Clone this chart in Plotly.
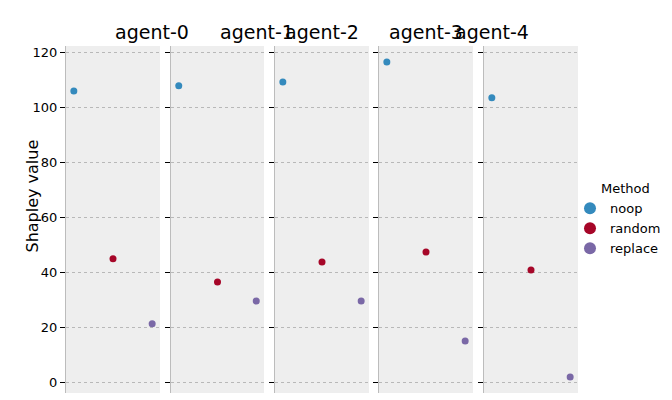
import plotly.graph_objects as go

agents = ["agent-0", "agent-1", "agent-2", "agent-3", "agent-4"]
methods = ["noop", "random", "replace"]
noop = [106.1, 108.0, 109.4, 116.7, 103.6]
random_ = [44.9, 36.5, 43.8, 47.4, 40.8]
replace = [21.2, 29.5, 29.5, 15.0, 1.8]
colors = {"noop": "#348ABD", "random": "#A60628", "replace": "#7A68A6"}
series = {"noop": noop, "random": random_, "replace": replace}

W, H = 672, 400
panels = [(58, 152), (163, 256), (267, 361), (371, 465), (476, 570)]
y_top, y_bot = 38, 385

fig = go.Figure()
layout = dict(width=W, height=H, margin=dict(l=0, r=0, t=0, b=0, autoexpand=False),
              paper_bgcolor="white", plot_bgcolor="#eeeeee",
              font=dict(family="DejaVu Sans", color="black"),
              legend=dict(x=562 / W, y=1 - 212 / H, yanchor="middle", xanchor="left",
                          title=dict(text="       Method", side="top", font=dict(size=13)),
                          font=dict(size=13), tracegroupgap=0,
                          bgcolor="rgba(0,0,0,0)", itemsizing="constant"),
              annotations=[])
for i, ag in enumerate(agents):
    sx = "" if i == 0 else str(i + 1)
    for m in methods:
        fig.add_trace(go.Scatter(x=[m], y=[series[m][i]], mode="markers",
                                 marker=dict(color=colors[m], size=7),
                                 name=m, legendgroup=m, showlegend=(i == 0),
                                 xaxis="x" + sx, yaxis="y" + sx))
    x0, x1 = panels[i]
    layout["xaxis" + sx] = dict(domain=[x0 / W, x1 / W], range=[-0.2, 2.2],
                                 categoryorder="array", categoryarray=methods,
                                 showticklabels=False, ticks="", showgrid=False,
                                 zeroline=False, anchor="y" + sx)
    layout["yaxis" + sx] = dict(domain=[1 - y_bot / H, 1 - y_top / H], range=[-4.0, 122.5],
                                 anchor="x" + sx, tickvals=[0, 20, 40, 60, 80, 100, 120],
                                 showticklabels=(i == 0), ticks="outside", ticklen=5,
                                 tickcolor="black", tickfont=dict(size=13),
                                 showgrid=True, gridcolor="#b8b8b8", griddash="dot",
                                 gridwidth=0.8, zeroline=False, showline=True,
                                 linecolor="#bcbcbc", linewidth=1)
    layout["annotations"].append(dict(text=ag, x=(x0 + x1) / 2 / W, y=1 - 24 / H,
                                      xref="paper", yref="paper", showarrow=False,
                                      font=dict(size=19), yanchor="middle"))
layout["annotations"].append(dict(text="Shapley value", x=12 / W, y=0.53, xref="paper",
                                  yref="paper", showarrow=False, textangle=-90,
                                  font=dict(size=16)))
fig.update_layout(**layout)
fig.write_html("out.html")
